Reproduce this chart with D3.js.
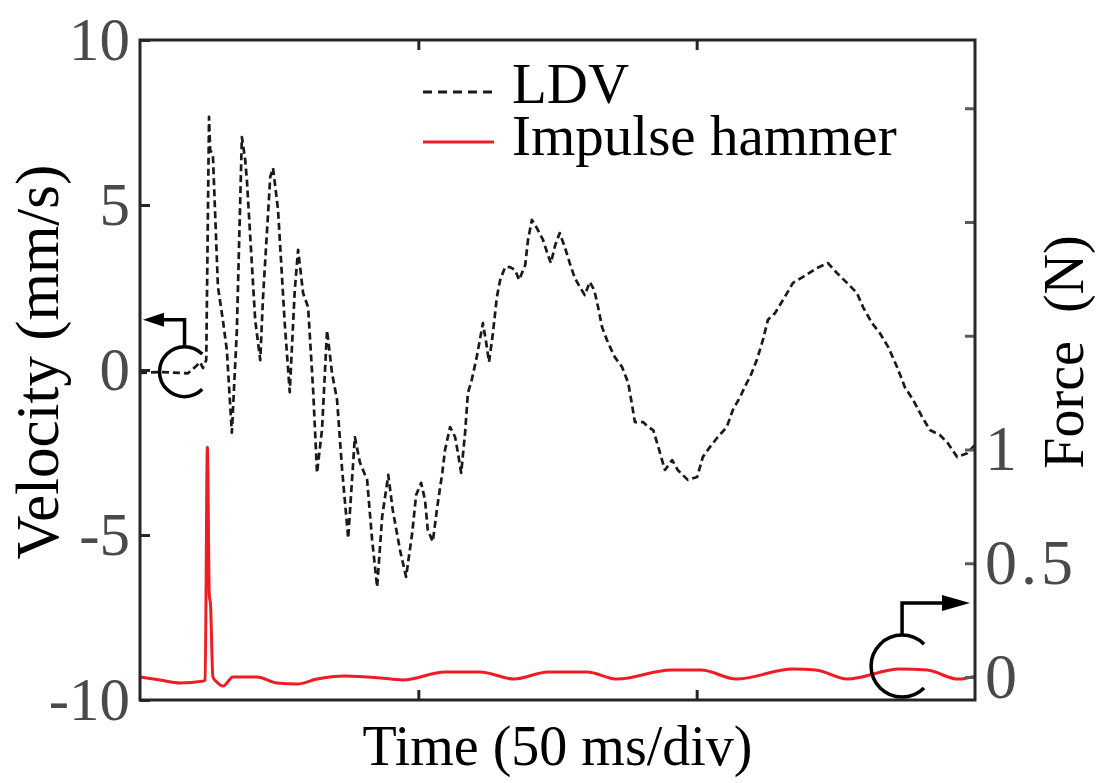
<!DOCTYPE html>
<html>
<head>
<meta charset="utf-8">
<script src="https://cdn.jsdelivr.net/npm/d3@7"></script>
<style>
  body { margin: 0; background: #fff; }
  svg { display: block; }
  .tick-label { font-family: "Liberation Serif", "Times New Roman", serif; fill: #4a4a4a; }
  .axis-title, .legend-text { font-family: "Liberation Serif", "Times New Roman", serif; fill: #000; }
</style>
</head>
<body>
<script>
// LDV velocity (ms, mm/s)
var ldvPoints = [
  [0,-0.09],[3.6,-0.06],[8.6,-0.1],[10.1,0.12],[10.8,0.24],[11.3,0.06],[11.9,0.3],
  [12.4,7.67],[12.6,6.67],[13.1,6.5],[14.0,2.52],[14.9,1.5],[15.6,0.6],[16.5,-1.9],
  [17.4,1.2],[18.3,7.06],[18.9,6.36],[19.2,5.76],[20.7,1.5],[21.6,0.3],[22.1,2.2],
  [23.4,5.85],[23.9,6.12],[24.8,4.85],[26.0,1.42],[26.9,-0.67],[27.8,2.42],[28.4,3.64],
  [29.3,2.33],[30.2,1.9],[31.1,-0.6],[31.8,-3.12],[32.7,-1.8],[33.6,1.2],[34.5,-0.1],
  [35.4,-0.9],[36.3,-3.0],[37.4,-5.1],[38.1,-3.3],[38.6,-2.03],[39.5,-2.8],[40.8,-3.33],
  [41.7,-5.15],[42.6,-6.58],[43.5,-4.45],[44.6,-3.18],[45.4,-4.24],[46.7,-5.45],[47.8,-6.27],
  [48.9,-4.94],[49.6,-3.79],[50.5,-3.42],[51.2,-3.94],[51.7,-4.85],[52.6,-5.2],[53.4,-4.15],
  [54.3,-3.12],[54.8,-2.42],[55.7,-1.73],[56.6,-2.03],[57.1,-2.5],[57.7,-3.12],[58.4,-1.9],
  [58.9,-0.7],[59.6,-0.3],[60.5,0.4],[61.6,1.42],[62.2,0.82],[62.7,0.24],[63.4,1.12],
  [64.1,2.2],[64.7,2.73],[65.6,3.12],[66.5,3.12],[67.4,3.03],[68.1,2.73],[69.2,3.18],
  [69.7,3.94],[70.4,4.55],[71.3,4.3],[72.4,3.94],[73.3,3.48],[73.8,3.24],[74.6,3.79],
  [75.4,4.15],[76.3,3.73],[77.2,3.24],[78.1,2.79],[79.0,2.52],[79.9,2.27],[80.8,2.67],
  [81.6,2.42],[82.3,1.9],[83.0,1.3],[84.1,0.82],[85.3,0.39],[86.6,0.09],[87.7,-0.39],
  [88.4,-1.06],[88.9,-1.58],[90.4,-1.58],[91.3,-1.73],[92.2,-1.82],[93.1,-2.33],[94.3,-3.03],
  [95.6,-2.73],[96.6,-3.03],[98.4,-3.33],[100.1,-3.24],[101.1,-2.64],[102.4,-2.33],[103.8,-2.03],
  [105.4,-1.73],[106.5,-1.21],[107.8,-0.82],[109.0,-0.39],[109.6,-0.21],[110.8,0.3],[111.9,0.91],
  [112.8,1.52],[114.1,1.73],[115.5,2.12],[117.3,2.64],[119.1,2.82],[121.6,3.09],[123.6,3.24],
  [125.2,2.94],[127.0,2.64],[128.8,2.33],[129.9,1.9],[131.5,1.42],[132.9,1.12],[134.4,0.7],
  [136.0,0.09],[137.4,-0.52],[138.9,-0.91],[140.5,-1.42],[141.9,-1.82],[143.7,-1.97],[145.1,-2.21],
  [146.8,-2.64],[148.6,-2.52],[150,-2.27]
];

// Impulse hammer force (ms, N)
var forcePoints = [
  [0,0],[3.6,-0.013],[7.2,-0.026],[11.3,-0.018],[11.7,-0.013],[12.1,1.01],[12.45,0.36],
  [12.66,0.32],[13.1,0],[13.8,-0.022],[14.9,-0.04],[16.7,0],[21.0,0],[24.6,-0.026],
  [28.2,-0.031],[31.8,-0.009],[36.8,0.004],[43.1,-0.004],[47.2,-0.013],[54.8,0.022],
  [61.1,0.022],[67.2,-0.009],[73.3,0.022],[80.3,0.022],[85.7,-0.009],[95.4,0.031],
  [100.8,0.031],[107.1,-0.009],[117.3,0.035],[121.4,0.031],[127.0,-0.009],[136.5,0.035],
  [141.4,0.031],[146.9,-0.009],[150,0.004]
];

var velocityTicks = [-10, -5, 0, 5, 10];
var forceTicks = [0, 0.5, 1, 1.5, 2, 2.5];
var forceLabelled = [0, 0.5, 1];
var timeTicks = [50, 100];
var legendLabels = ["LDV", "Impulse hammer"];

var w = 1102, h = 783;
var plotLeft = 140, plotRight = 975, plotTop = 40, plotBottom = 700;

var svg = d3.select("body").append("svg")
    .attr("width", w)
    .attr("height", h);

svg.append("rect").attr("width", w).attr("height", h).attr("fill", "#fff");

var x = d3.scaleLinear().domain([0, 150]).range([plotLeft, plotRight]);
var yV = d3.scaleLinear().domain([-10, 10]).range([plotBottom, plotTop]);
var yF = d3.scaleLinear().domain([-0.101, 2.80]).range([plotBottom, plotTop]);

svg.append("clipPath").attr("id", "plot-clip")
  .append("rect")
    .attr("x", plotLeft).attr("y", plotTop)
    .attr("width", plotRight - plotLeft).attr("height", plotBottom - plotTop);

// data lines
var ldvLine = d3.line().x(function(d) { return x(d[0]); }).y(function(d) { return yV(d[1]); });
var forceLine = d3.line().curve(d3.curveMonotoneX)
    .x(function(d) { return x(d[0]); }).y(function(d) { return yF(d[1]); });

var plot = svg.append("g").attr("clip-path", "url(#plot-clip)");

plot.append("path")
    .datum(forcePoints)
    .attr("d", forceLine)
    .attr("fill", "none")
    .attr("stroke", "#ee1c25")
    .attr("stroke-width", 3)
    .attr("stroke-linejoin", "round");

plot.append("path")
    .datum(ldvPoints)
    .attr("d", ldvLine)
    .attr("fill", "none")
    .attr("stroke", "#1a1a1a")
    .attr("stroke-width", 2.7)
    .attr("stroke-dasharray", "7,4")
    .attr("stroke-linejoin", "round");

// axes (ticks point inward, MATLAB style)
function styleAxis(g, tickColor, fontSize) {
    g.select(".domain").remove();
    g.selectAll(".tick line").attr("stroke", tickColor).attr("stroke-width", 3);
    g.selectAll(".tick text").attr("class", "tick-label").style("font-size", fontSize + "px");
}

svg.append("g")
    .attr("transform", "translate(" + plotLeft + ",0)")
    .call(d3.axisLeft(yV).tickValues(velocityTicks).tickSize(-10).tickPadding(10)
        .tickFormat(function(d) { return String(d); }))
    .call(styleAxis, "#262626", 61);

svg.append("g")
    .attr("transform", "translate(0," + plotBottom + ")")
    .call(d3.axisBottom(x).tickValues(timeTicks).tickSize(-10).tickFormat(""))
    .call(styleAxis, "#262626", 60);

svg.append("g")
    .attr("transform", "translate(0," + plotTop + ")")
    .call(d3.axisTop(x).tickValues(timeTicks).tickSize(-10).tickFormat(""))
    .call(styleAxis, "#262626", 60);

var rightAxis = svg.append("g")
    .attr("transform", "translate(" + plotRight + ",0)")
    .call(d3.axisRight(yF).tickValues(forceTicks).tickSize(-10).tickPadding(10)
        .tickFormat(function(d) { return forceLabelled.indexOf(d) >= 0 ? String(d) : ""; }))
    .call(styleAxis, "#5a5a5a", 64);
rightAxis.selectAll(".tick text").style("letter-spacing", "4px");

// box
svg.append("rect")
    .attr("x", plotLeft).attr("y", plotTop)
    .attr("width", plotRight - plotLeft).attr("height", plotBottom - plotTop)
    .attr("fill", "none")
    .attr("stroke", "#262626")
    .attr("stroke-width", 3);

// axis titles
svg.append("text")
    .attr("class", "axis-title")
    .attr("x", (plotLeft + plotRight) / 2)
    .attr("y", 765)
    .attr("text-anchor", "middle")
    .style("font-size", "56px")
    .text("Time (50 ms/div)");

svg.append("text")
    .attr("class", "axis-title")
    .attr("transform", "translate(58,362) rotate(-90)")
    .attr("text-anchor", "middle")
    .style("font-size", "61px")
    .text("Velocity (mm/s)");

svg.append("text")
    .attr("class", "axis-title")
    .attr("transform", "translate(1083,352) rotate(-90)")
    .attr("text-anchor", "middle")
    .style("font-size", "56px")
    .text("Force\u00a0\u00a0(N)");

// legend
var legend = svg.append("g");
legend.append("line")
    .attr("x1", 423).attr("x2", 494).attr("y1", 92).attr("y2", 92)
    .attr("stroke", "#1a1a1a").attr("stroke-width", 3).attr("stroke-dasharray", "9,6");
legend.append("line")
    .attr("x1", 423).attr("x2", 494).attr("y1", 142).attr("y2", 142)
    .attr("stroke", "#ee1c25").attr("stroke-width", 3);
legend.selectAll("text.legend-text")
    .data(legendLabels)
  .enter().append("text")
    .attr("class", "legend-text")
    .attr("x", 512)
    .attr("y", function(d, i) { return 103 + i * 52; })
    .style("font-size", "57px")
    .text(function(d) { return d; });

// axis pointer markers: circle + arrow showing which axis a curve uses
function marker(cx, cy, r, stemTop, tipX, baseX, half) {
    var g = svg.append("g");
    var p = d3.path();
    p.arc(cx, cy, r, -Math.PI / 4, Math.PI / 4, true);
    g.append("path").attr("d", p.toString())
        .attr("fill", "none").attr("stroke", "#000").attr("stroke-width", 3.5);
    g.append("path")
        .attr("d", "M" + cx + "," + (cy - r) + "V" + stemTop + "H" + baseX)
        .attr("fill", "none").attr("stroke", "#000").attr("stroke-width", 3.5);
    g.append("path")
        .attr("d", "M" + tipX + "," + stemTop + "L" + baseX + "," + (stemTop - half) +
            "L" + baseX + "," + (stemTop + half) + "Z")
        .attr("fill", "#000");
}

marker(x(8.0), yV(-0.05), 25, yV(-0.05) - 52, plotLeft + 3, plotLeft + 24, 7);
marker(x(136.9), yF(0.048), 31, yF(0.048) - 63, plotRight - 5, plotRight - 33, 8);
</script>
</body>
</html>
